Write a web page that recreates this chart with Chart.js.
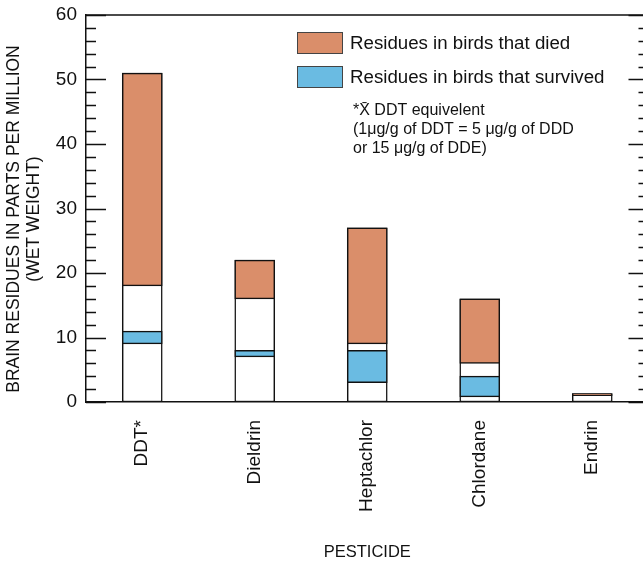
<!DOCTYPE html>
<html lang="en">
<head>
    <meta charset="UTF-8">
    <title>Brain residues by pesticide</title>
    <script src="https://cdn.jsdelivr.net/npm/chart.js"></script>
    <style>
        html, body {
            margin: 0;
            padding: 0;
            background: #fff;
            overflow: hidden;
        }
        .wrap {
            position: relative;
            width: 700px;
            height: 565px;
        }
    </style>
</head>
<body>
    <div class="wrap">
        <canvas id="residueChart" width="700" height="565"></canvas>
    </div>
    <script>
        // valores
        const pesticides = ['DDT*', 'Dieldrin', 'Heptachlor', 'Chlordane', 'Endrin'];
        const survivedLow = [9, 7, 3, 0.8, null];
        const survivedHigh = [11, 8, 8, 4, null];
        const diedLow = [18, 16, 9, 6, 1.0];
        const diedHigh = [51, 22, 27, 16, 1.3];
        const yTicks = [0, 10, 20, 30, 40, 50, 60];
        const yTitle = ['BRAIN RESIDUES IN PARTS PER MILLION', '(WET WEIGHT)'];
        const noteLines = ['*X\u0304 DDT equivelent', '(1\u03bcg/g of DDT = 5 \u03bcg/g of DDD', 'or 15 \u03bcg/g of DDE)'];

        const FONT = 'Liberation Sans, Arial, Helvetica, sans-serif';
        const INK = '#111';
        const ORANGE = '#DA8E6A';
        const BLUE = '#6ABBE2';

        const framePlugin = {
            id: 'frame',
            afterDraw(chart) {
                const ctx = chart.ctx;
                const a = chart.chartArea;
                const y = chart.scales.y;
                ctx.save();
                ctx.strokeStyle = INK;
                ctx.lineWidth = 1.5;
                ctx.beginPath();
                ctx.moveTo(a.left, a.top);
                ctx.lineTo(a.right, a.top);
                ctx.lineTo(a.right, a.bottom);
                ctx.stroke();

                // marcas hacia dentro, cada 2 unidades
                for (let v = y.min; v <= y.max; v += 2) {
                    const py = Math.round(y.getPixelForValue(v)) + 0.5;
                    const len = v % 10 === 0 ? 20 : 10;
                    ctx.beginPath();
                    ctx.moveTo(a.left, py);
                    ctx.lineTo(a.left + len, py);
                    ctx.moveTo(a.right - len, py);
                    ctx.lineTo(a.right, py);
                    ctx.stroke();
                }

                // titulo del eje y (un poco por debajo del centro, como el original)
                ctx.fillStyle = INK;
                ctx.font = '17.5px ' + FONT;
                ctx.textAlign = 'center';
                ctx.textBaseline = 'middle';
                ctx.save();
                ctx.translate(14.5, 219);
                ctx.rotate(-Math.PI / 2);
                yTitle.forEach((t, i) => ctx.fillText(t, 0, i * 19.5));
                ctx.restore();

                // leyenda
                const items = chart.data.datasets.filter(d => d.legend);
                items.sort((p, q) => p.legend - q.legend);
                ctx.textAlign = 'left';
                ctx.lineWidth = 1;
                ctx.font = '18.7px ' + FONT;
                items.forEach((d, i) => {
                    const top = 32 + i * 34;
                    ctx.fillStyle = d.backgroundColor;
                    ctx.fillRect(297, top, 46, 22);
                    ctx.strokeStyle = '#444';
                    ctx.strokeRect(297.5, top + 0.5, 45, 21);
                    ctx.fillStyle = INK;
                    ctx.fillText(d.label, 350, top + 12);
                });

                ctx.font = '16px ' + FONT;
                noteLines.forEach((t, i) => {
                    ctx.fillText(t, 353, 111 + i * 19);
                });
                ctx.restore();
            }
        };

        const ctx = document.getElementById('residueChart').getContext('2d');
        const residueChart = new Chart(ctx, {
            type: 'bar',
            data: {
                labels: pesticides,
                datasets: [
                    {
                        label: 'Residues in birds that died',
                        legend: 1,
                        data: diedLow.map((v, i) => [v, diedHigh[i]]),
                        backgroundColor: ORANGE,
                        order: 1
                    },
                    {
                        label: 'Residues in birds that survived',
                        legend: 2,
                        data: survivedLow.map((v, i) => v === null ? null : [v, survivedHigh[i]]),
                        backgroundColor: BLUE,
                        order: 2
                    },
                    {
                        label: 'outline',
                        data: diedHigh.map(v => [0, v]),
                        backgroundColor: '#fff',
                        order: 3
                    }
                ]
            },
            options: {
                responsive: false,
                animation: false,
                layout: {
                    padding: { left: 36, top: 15, right: 51.5, bottom: 0 }
                },
                datasets: {
                    bar: {
                        grouped: false,
                        barThickness: 40,
                        borderColor: INK,
                        borderWidth: 1.5,
                        borderSkipped: false
                    }
                },
                plugins: {
                    legend: { display: false },
                    tooltip: { enabled: false }
                },
                scales: {
                    x: {
                        grid: { display: false },
                        border: { color: INK, width: 1.5 },
                        ticks: {
                            color: INK,
                            font: { family: FONT, size: 19 },
                            minRotation: 90,
                            maxRotation: 90,
                            padding: 10
                        },
                        title: {
                            display: true,
                            text: 'PESTICIDE',
                            color: INK,
                            font: { family: FONT, size: 16.5 },
                            padding: { top: 0, bottom: 3 }
                        },
                        afterFit(scale) { scale.height = 163; }
                    },
                    y: {
                        min: 0,
                        max: 60,
                        afterBuildTicks(scale) {
                            scale.ticks = yTicks.map(v => ({ value: v }));
                        },
                        grid: { display: false },
                        border: { color: INK, width: 1.5 },
                        ticks: {
                            color: INK,
                            font: { family: FONT, size: 19 },
                            padding: 1
                        },
                        afterFit(scale) { scale.width = 50; }
                    }
                }
            },
            plugins: [framePlugin]
        });
    </script>
</body>
</html>
